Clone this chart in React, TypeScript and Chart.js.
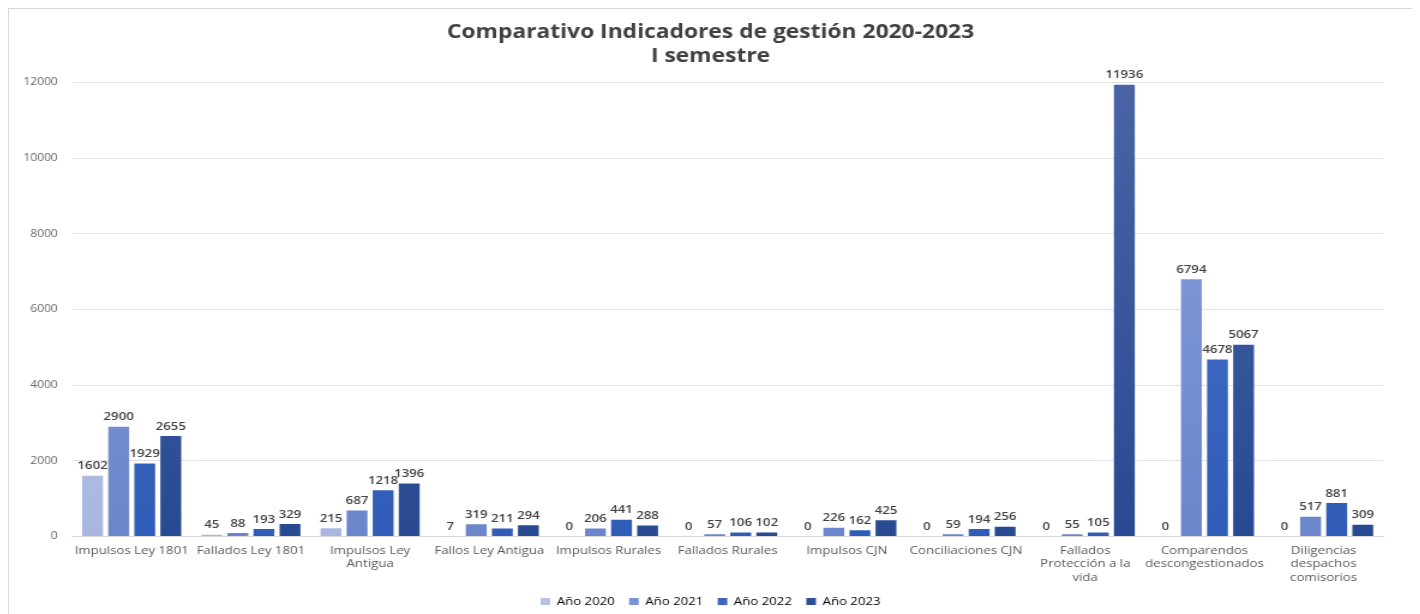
import React, { useEffect, useRef } from "react";
import { Chart, registerables } from "chart.js";

Chart.register(...registerables);

const categories: (string | string[])[] = [
  "Impulsos Ley 1801",
  "Fallados Ley 1801",
  ["Impulsos Ley", "Antigua"],
  "Fallos Ley Antigua",
  "Impulsos Rurales",
  "Fallados Rurales",
  "Impulsos CJN",
  "Conciliaciones CJN",
  ["Fallados", "Protección a la", "vida"],
  ["Comparendos", "descongestionados"],
  ["Diligencias", "despachos", "comisorios"],
];

const seriesNames = ["Año 2020", "Año 2021", "Año 2022", "Año 2023"];

const year2020 = [1602, 45, 215, 7, 0, 0, 0, 0, 0, 0, 0];
const year2021 = [2900, 88, 687, 319, 206, 57, 226, 59, 55, 6794, 517];
const year2022 = [1929, 193, 1218, 211, 441, 106, 162, 194, 105, 4678, 881];
const year2023 = [2655, 329, 1396, 294, 288, 102, 425, 256, 11936, 5067, 309];

const yTicks = [0, 2000, 4000, 6000, 8000, 10000, 12000];

const colorsTop = ["#c3cdea", "#8aa0da", "#4f76cc", "#4a64a6"];
const colorsBottom = ["#a9b7e0", "#6b86cc", "#2f5cb8", "#284a92"];
const legendColors = ["#b4c1e4", "#7b93d2", "#3e66c0", "#2f4e94"];

const FONT = "'Open Sans', 'Liberation Sans', sans-serif";
const STRETCH = 1.2;
const OUTER_W = 1405;
const OUTER_H = 614;

const valueLabels = {
  id: "valueLabels",
  afterDatasetsDraw(chart: any) {
    const ctx = chart.ctx;
    ctx.save();
    ctx.font = `600 11px ${FONT}`;
    ctx.fillStyle = "#404040";
    ctx.textAlign = "center";
    ctx.textBaseline = "bottom";
    chart.data.datasets.forEach((ds: any, i: number) => {
      const meta = chart.getDatasetMeta(i);
      meta.data.forEach((el: any, j: number) => {
        const v = ds.data[j];
        ctx.fillText(String(v), el.x, el.y - 4);
      });
    });
    ctx.restore();
  },
};

export default function App() {
  const ref = useRef<HTMLCanvasElement>(null);
  useEffect(() => {
    if (!ref.current) return;
    const all = [year2020, year2021, year2022, year2023];
    const chart = new Chart(ref.current, {
      type: "bar",
      data: {
        labels: categories,
        datasets: all.map((d, i) => ({
          label: seriesNames[i],
          data: d,
          yAxisID: "y",
          backgroundColor: (c: any) => {
            const area = c.chart.chartArea;
            if (!area) return legendColors[i];
            const g = c.chart.ctx.createLinearGradient(0, area.top, 0, area.bottom);
            g.addColorStop(0, colorsTop[i]);
            g.addColorStop(1, colorsBottom[i]);
            return g;
          },
          borderWidth: 0,
          categoryPercentage: 0.875,
          barPercentage: 0.8,
        })),
      },
      options: {
        animation: false,
        responsive: true,
        maintainAspectRatio: false,
        layout: { padding: { left: 12, right: 12, top: 6, bottom: 4 } },
        plugins: {
          title: {
            display: true,
            text: ["Comparativo Indicadores de gestión 2020-2023", "I semestre"],
            color: "#404040",
            font: { family: FONT, size: 19, weight: "bold", lineHeight: 1.3 },
            padding: { top: 5, bottom: 13 },
          },
          legend: {
            position: "bottom",
            labels: {
              color: "#666666",
              font: { family: FONT, size: 11 },
              boxWidth: 8,
              boxHeight: 7,
              padding: 12,
              generateLabels: () =>
                seriesNames.map((n, i) => ({
                  text: n,
                  fillStyle: legendColors[i],
                  strokeStyle: legendColors[i],
                  lineWidth: 0,
                  datasetIndex: i,
                  hidden: false,
                })),
            },
          },
          tooltip: { enabled: false },
        },
        scales: {
          x: {
            grid: { display: false },
            border: { color: "#d9d9d9" },
            ticks: {
              color: "#595959",
              font: { family: FONT, size: 11 },
              maxRotation: 0,
              autoSkip: false,
              padding: 0,
            },
          },
          y: {
            min: 0,
            max: 12000,
            afterBuildTicks: (axis: any) => {
              axis.ticks = yTicks.map((v) => ({ value: v }));
            },
            afterFit: (axis: any) => {
              axis.width = axis.width - 12;
            },
            grid: { color: "#e3e3e3", drawTicks: false },
            border: { display: false },
            ticks: {
              color: "#666666",
              font: { family: FONT, size: 10 },
              padding: 12,
              callback: (v: any) => String(v),
            },
          },
          yRight: {
            position: "right",
            min: 0,
            max: 12000,
            grid: { display: false, drawTicks: false },
            border: { display: false },
            ticks: { display: false },
            afterFit: (axis: any) => {
              axis.width = 12;
            },
          },
        },
      },
      plugins: [valueLabels],
    });
    return () => chart.destroy();
  }, []);
  return (
    <div
      style={{
        width: OUTER_W,
        height: OUTER_H,
        border: "1px solid #d9d9d9",
        boxSizing: "border-box",
        position: "relative",
        background: "#fff",
        overflow: "hidden",
      }}
    >
      <div
        style={{
          position: "absolute",
          left: 0,
          top: 0,
          width: (OUTER_W - 2) / STRETCH,
          height: OUTER_H - 2,
          transform: `scaleX(${STRETCH})`,
          transformOrigin: "0 0",
        }}
      >
        <canvas ref={ref} />
      </div>
    </div>
  );
}
